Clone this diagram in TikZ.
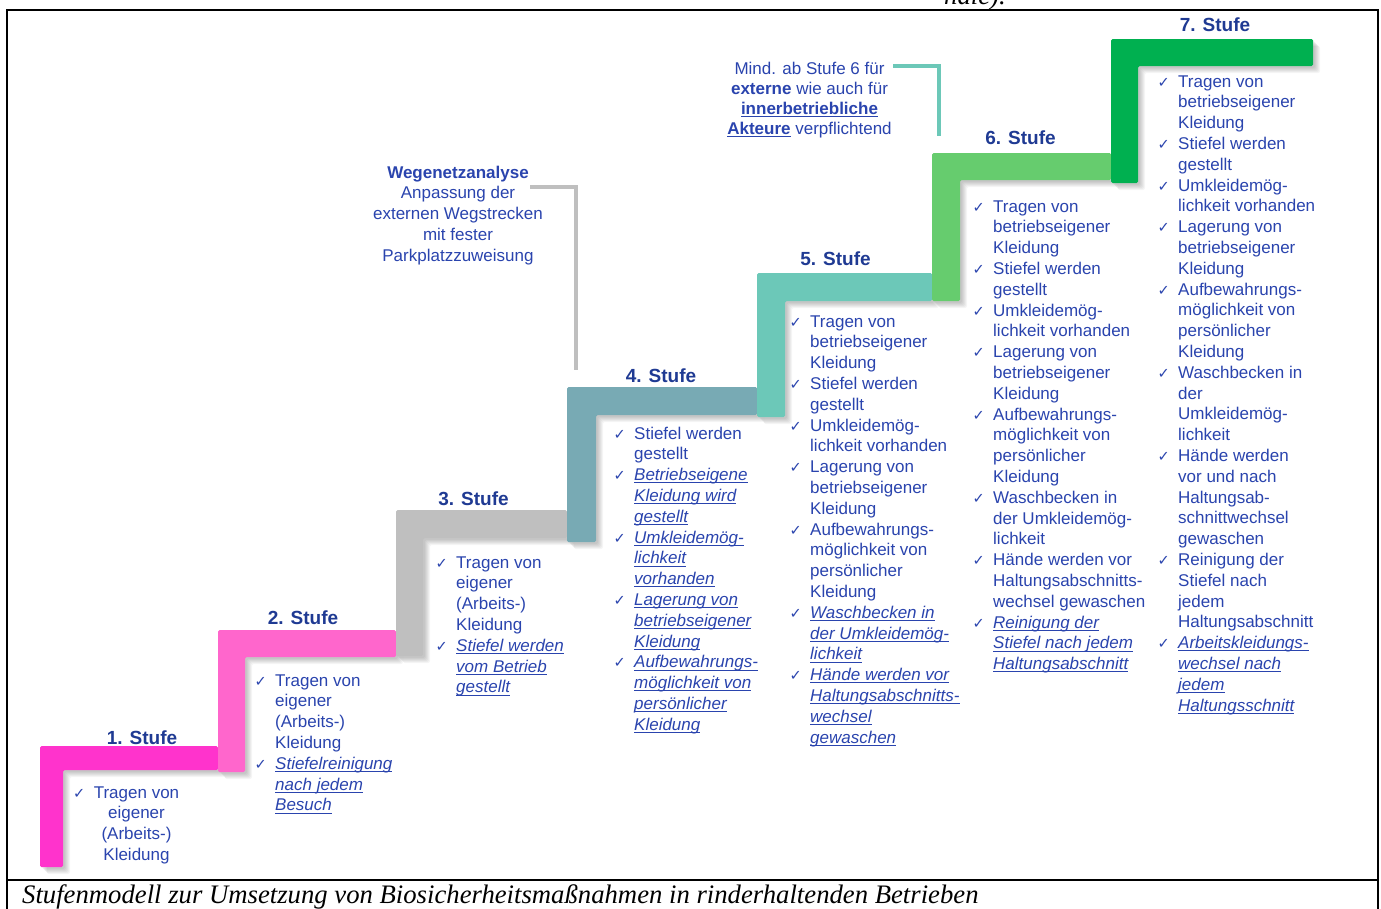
\documentclass[tikz,border=0pt]{standalone}
\usepackage{fontspec}
\setmainfont{Liberation Sans}
\newfontfamily\capfont{Liberation Serif}
\newfontfamily\symfont{DejaVu Sans}
\definecolor{lbl}{HTML}{1F3A93}
\definecolor{txt}{HTML}{2A44AE}
\definecolor{sA}{HTML}{FF33CC}
\definecolor{sB}{HTML}{FF66CC}
\definecolor{sC}{HTML}{BFBFBF}
\definecolor{sD}{HTML}{78AAB4}
\definecolor{sE}{HTML}{6CC8B8}
\definecolor{sF}{HTML}{66CC6E}
\definecolor{sG}{HTML}{00B050}
\newcommand\chk{\leavevmode\llap{{\symfont\fontsize{14.5}{14.5}\selectfont ✓}\hspace{8.5pt}}}
\newsavebox\ulbox
\newcommand\ui[1]{\leavevmode\sbox\ulbox{\itshape #1}\rlap{\rule[-2.6pt]{\wd\ulbox}{0.9pt}}\usebox{\ulbox}}
\newcommand\ub[1]{\leavevmode\sbox\ulbox{\bfseries #1}\rlap{\rule[-2.8pt]{\wd\ulbox}{0.9pt}}\usebox{\ulbox}}
\newcommand\stairL[7]{%
  \foreach \s in {1,...,6}{%
    \fill[black,opacity=0.04,rounded corners=2pt,shift={(\s+1,\s+1)}]
      (#2,#5) -- (#4,#5) -- (#4,#6) -- (#3,#6) -- (#3,#7) -- (#2,#7) -- cycle;}
  \fill[#1,rounded corners=1.5pt]
      (#2,#5) -- (#4,#5) -- (#4,#6) -- (#3,#6) -- (#3,#7) -- (#2,#7) -- cycle;}
\tikzset{
  steplabel/.style={anchor=base,inner sep=0pt,text=lbl,font=\bfseries\fontsize{19}{19}\selectfont},
  coltext/.style={anchor=base west,inner sep=0pt,text=txt},
  colcenter/.style={anchor=base,inner sep=0pt,text=txt},
  bracket/.style={line width=4pt},
}
\begin{document}
\begin{tikzpicture}[x=1pt,y=-1pt]
\useasboundingbox (0,0) rectangle (1381,908);
\clip (0,0) rectangle (1381,908);
\fill[white] (0,0) rectangle (1381,908);
% frame
\draw[line width=2pt] (7,912) -- (7,10) -- (1378,10) -- (1378,912);
\draw[line width=2pt] (7,880) -- (1378,880);
\node[anchor=base west,inner sep=0pt,font=\capfont\itshape\fontsize{26.7}{26.7}\selectfont] (frag) at (944,4) {nale).};
\node[anchor=base west,inner sep=0pt,font=\capfont\itshape\fontsize{26.7}{26.7}\selectfont] (caption) at (22,903) {Stufenmodell zur Umsetzung von Biosicherheitsmaßnahmen in rinderhaltenden Betrieben};
% stairs
\stairL{sA}{40}{63}{218}{746}{770}{867}
\stairL{sB}{218}{245}{396}{630}{657}{772}
\stairL{sC}{396}{423}{567}{510}{538}{656}
\stairL{sD}{567}{596}{757}{387}{415}{542}
\stairL{sE}{757}{785}{932}{273}{301}{417}
\stairL{sF}{932}{960}{1111}{153}{180}{301}
\stairL{sG}{1111}{1138}{1313}{39}{66}{183}
% labels
\node[steplabel] (l1) at (142,744) {1. Stufe};
\node[steplabel] (l2) at (303,624) {2. Stufe};
\node[steplabel] (l3) at (473.5,505) {3. Stufe};
\node[steplabel] (l4) at (661,382) {4. Stufe};
\node[steplabel] (l5) at (835.5,265) {5. Stufe};
\node[steplabel] (l6) at (1020.5,144) {6. Stufe};
\node[steplabel] (l7) at (1215,31) {7. Stufe};
% brackets
\draw[bracket,sC] (530,187) -- (576,187) -- (576,370);
\draw[bracket,sE] (893,66) -- (939,66) -- (939,136);
% annotations
\node[colcenter] (weg) at (458,178) {\parbox[t]{220pt}{\centering\fontsize{17}{20.8}\selectfont
\textbf{Wegenetzanalyse}\\Anpassung der\\externen Wegstrecken\\mit fester\\Parkplatzzuweisung}};
\node[colcenter] (mind) at (809.5,74) {\parbox[t]{220pt}{\centering\fontsize{17}{20}\selectfont
Mind. ab Stufe 6 für\\\textbf{externe} wie auch für\\\ub{innerbetriebliche}\\\ub{Akteure} verpflichtend}};
% columns
\node[colcenter] (c1) at (136.5,798) {\parbox[t]{150pt}{\centering\fontsize{17}{20.8}\selectfont
\chk Tragen von\\eigener\\(Arbeits-)\\Kleidung}};
\node[coltext] (c2) at (275,686) {\parbox[t]{200pt}{\raggedright\fontsize{17}{20.8}\selectfont
\chk Tragen von\\eigener\\(Arbeits-)\\Kleidung\\
\chk \ui{Stiefelreinigung}\\\ui{nach jedem}\\\ui{Besuch}}};
\node[coltext] (c3) at (456,568) {\parbox[t]{200pt}{\raggedright\fontsize{17}{20.8}\selectfont
\chk Tragen von\\eigener\\(Arbeits-)\\Kleidung\\
\chk \ui{Stiefel werden}\\\ui{vom Betrieb}\\\ui{gestellt}}};
\node[coltext] (c4) at (634,439) {\parbox[t]{200pt}{\raggedright\fontsize{17}{20.8}\selectfont
\chk Stiefel werden\\gestellt\\
\chk \ui{Betriebseigene}\\\ui{Kleidung wird}\\\ui{gestellt}\\
\chk \ui{Umkleidemög-}\\\ui{lichkeit}\\\ui{vorhanden}\\
\chk \ui{Lagerung von}\\\ui{betriebseigener}\\\ui{Kleidung}\\
\chk \ui{Aufbewahrungs-}\\\ui{möglichkeit von}\\\ui{persönlicher}\\\ui{Kleidung}}};
\node[coltext] (c5) at (810,327) {\parbox[t]{200pt}{\raggedright\fontsize{17}{20.8}\selectfont
\chk Tragen von\\betriebseigener\\Kleidung\\
\chk Stiefel werden\\gestellt\\
\chk Umkleidemög-\\lichkeit vorhanden\\
\chk Lagerung von\\betriebseigener\\Kleidung\\
\chk Aufbewahrungs-\\möglichkeit von\\persönlicher\\Kleidung\\
\chk \ui{Waschbecken in}\\\ui{der Umkleidemög-}\\\ui{lichkeit}\\
\chk \ui{Hände werden vor}\\\ui{Haltungsabschnitts-}\\\ui{wechsel}\\\ui{gewaschen}}};
\node[coltext] (c6) at (993,212) {\parbox[t]{200pt}{\raggedright\fontsize{17}{20.8}\selectfont
\chk Tragen von\\betriebseigener\\Kleidung\\
\chk Stiefel werden\\gestellt\\
\chk Umkleidemög-\\lichkeit vorhanden\\
\chk Lagerung von\\betriebseigener\\Kleidung\\
\chk Aufbewahrungs-\\möglichkeit von\\persönlicher\\Kleidung\\
\chk Waschbecken in\\der Umkleidemög-\\lichkeit\\
\chk Hände werden vor\\Haltungsabschnitts-\\wechsel gewaschen\\
\chk \ui{Reinigung der}\\\ui{Stiefel nach jedem}\\\ui{Haltungsabschnitt}}};
\node[coltext] (c7) at (1178,87) {\parbox[t]{200pt}{\raggedright\fontsize{17}{20.8}\selectfont
\chk Tragen von\\betriebseigener\\Kleidung\\
\chk Stiefel werden\\gestellt\\
\chk Umkleidemög-\\lichkeit vorhanden\\
\chk Lagerung von\\betriebseigener\\Kleidung\\
\chk Aufbewahrungs-\\möglichkeit von\\persönlicher\\Kleidung\\
\chk Waschbecken in\\der\\Umkleidemög-\\lichkeit\\
\chk Hände werden\\vor und nach\\Haltungsab-\\schnittwechsel\\gewaschen\\
\chk Reinigung der\\Stiefel nach\\jedem\\Haltungsabschnitt\\
\chk \ui{Arbeitskleidungs-}\\\ui{wechsel nach}\\\ui{jedem}\\\ui{Haltungsschnitt}}};
\end{tikzpicture}
\end{document}
